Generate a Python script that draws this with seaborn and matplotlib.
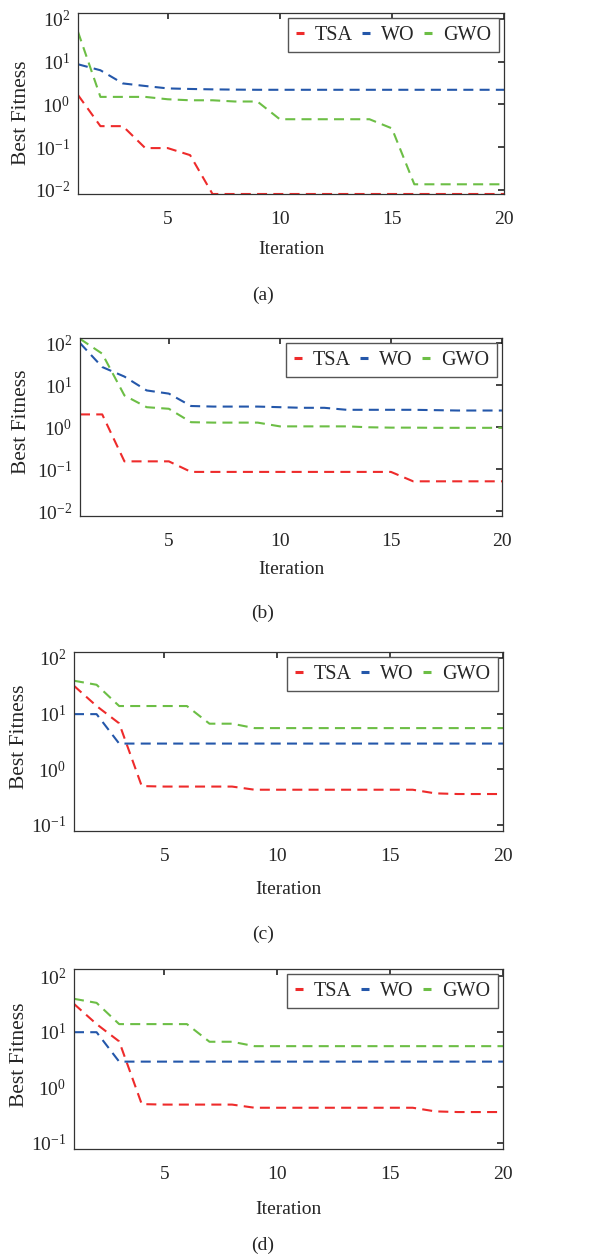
"""
Convergence curves of TSA, WO and GWO on four test cases (log scale)
"""

import numpy as np
import pandas as pd
import matplotlib
matplotlib.use("Agg")
import matplotlib.pyplot as plt
import seaborn as sns
from matplotlib.ticker import LogFormatterMathtext, FixedLocator

iterations = list(range(1, 21))
algorithms = ["TSA", "WO", "GWO"]
colors = ["#EE2B2B", "#2457AA", "#6CBE45"]

# panel (a)
tsa_a = [1.66, 0.31, 0.31, 0.095, 0.095, 0.065, 0.008, 0.008, 0.008, 0.008,
         0.008, 0.008, 0.008, 0.008, 0.008, 0.008, 0.008, 0.008, 0.008, 0.008]
wo_a = [8.7, 6.3, 3.1, 2.7, 2.37, 2.3, 2.25, 2.22, 2.2, 2.2,
        2.2, 2.2, 2.2, 2.2, 2.2, 2.2, 2.2, 2.2, 2.2, 2.2]
gwo_a = [50, 1.5, 1.5, 1.5, 1.32, 1.25, 1.25, 1.17, 1.17, 0.45,
         0.45, 0.45, 0.45, 0.45, 0.275, 0.0135, 0.0135, 0.0135, 0.0135, 0.0135]

# panel (b)
tsa_b = [2.02, 2.02, 0.155, 0.155, 0.155, 0.087, 0.087, 0.087, 0.087, 0.087,
         0.087, 0.087, 0.087, 0.087, 0.087, 0.052, 0.052, 0.052, 0.052, 0.052]
wo_b = [100, 27, 16, 7.5, 6.3, 3.2, 3.1, 3.1, 3.1, 3.0,
        2.9, 2.9, 2.6, 2.6, 2.6, 2.6, 2.55, 2.5, 2.5, 2.5]
gwo_b = [126, 56, 5.7, 3.0, 2.75, 1.32, 1.29, 1.29, 1.29, 1.05,
         1.05, 1.05, 1.05, 1.0, 0.98, 0.98, 0.97, 0.97, 0.97, 0.97]

# panel (c)
tsa_c = [31.6, 13.7, 6.7, 0.5, 0.49, 0.49, 0.49, 0.49, 0.43, 0.43,
         0.43, 0.43, 0.43, 0.43, 0.43, 0.43, 0.37, 0.36, 0.36, 0.36]
wo_c = [9.8, 9.8, 2.9, 2.9, 2.9, 2.9, 2.9, 2.9, 2.9, 2.9,
        2.9, 2.9, 2.9, 2.9, 2.9, 2.9, 2.9, 2.9, 2.9, 2.9]
gwo_c = [39, 33, 13.7, 13.7, 13.7, 13.7, 6.6, 6.6, 5.5, 5.5,
         5.5, 5.5, 5.5, 5.5, 5.5, 5.5, 5.5, 5.5, 5.5, 5.5]

# panel (d)
tsa_d = [31.6, 13.7, 6.7, 0.5, 0.49, 0.49, 0.49, 0.49, 0.43, 0.43,
         0.43, 0.43, 0.43, 0.43, 0.43, 0.43, 0.37, 0.36, 0.36, 0.36]
wo_d = [9.8, 9.8, 2.9, 2.9, 2.9, 2.9, 2.9, 2.9, 2.9, 2.9,
        2.9, 2.9, 2.9, 2.9, 2.9, 2.9, 2.9, 2.9, 2.9, 2.9]
gwo_d = [39, 33, 13.7, 13.7, 13.7, 13.7, 6.6, 6.6, 5.5, 5.5,
         5.5, 5.5, 5.5, 5.5, 5.5, 5.5, 5.5, 5.5, 5.5, 5.5]

captions = ["(a)", "(b)", "(c)", "(d)"]
y_limits = [(0.0080, 138), (0.0078, 132), (0.078, 128), (0.078, 134)]
y_ticks = [[1e-2, 1e-1, 1e0, 1e1, 1e2], [1e-2, 1e-1, 1e0, 1e1, 1e2],
           [1e-1, 1e0, 1e1, 1e2], [1e-1, 1e0, 1e1, 1e2]]
x_ticks = [5, 10, 15, 20]

panels = [(tsa_a, wo_a, gwo_a), (tsa_b, wo_b, gwo_b),
          (tsa_c, wo_c, gwo_c), (tsa_d, wo_d, gwo_d)]

# layout in pixels (from the top left corner of the 591x1258 figure)
W, H = 591, 1258
# left, top, right, bottom of each axes
boxes = [(78, 13, 504, 194), (80, 338, 502, 516),
         (74, 652, 503, 831), (74, 969, 503, 1149)]
xlabel_pos = [(291, 250), (291, 569), (288, 889), (288, 1210)]
ylabel_pos = [(22, 113), (22, 422), (20, 737), (20, 1055)]
caption_pos = [(263, 295), (263, 613), (263, 934), (263, 1245)]

sns.set_theme(style="white")
plt.rcParams["font.family"] = ["Liberation Serif", "DejaVu Serif"]
plt.rcParams["mathtext.fontset"] = "custom"
plt.rcParams["mathtext.rm"] = "Liberation Serif"
plt.rcParams["mathtext.it"] = "Liberation Serif:italic"
plt.rcParams["font.size"] = 14.5

fig = plt.figure(figsize=(W / 100, H / 100), dpi=100)
fig.patch.set_facecolor("white")


def px(x, y):
    return x / W, 1 - y / H


for i, (tsa, wo, gwo) in enumerate(panels):
    l, t, r, b = boxes[i]
    ax = fig.add_axes([l / W, 1 - b / H, (r - l) / W, (b - t) / H])

    df = pd.DataFrame({
        "Iteration": iterations * 3,
        "Best Fitness": tsa + wo + gwo,
        "Algorithm": ["TSA"] * 20 + ["WO"] * 20 + ["GWO"] * 20,
    })
    sns.lineplot(data=df, x="Iteration", y="Best Fitness", hue="Algorithm",
                 style="Algorithm", hue_order=algorithms, style_order=algorithms,
                 palette=dict(zip(algorithms, colors)),
                 dashes={a: (4.8, 3) for a in algorithms},
                 linewidth=1.5, legend=False, ax=ax)

    ax.set_yscale("log")
    ax.set_xlim(1, 20)
    ax.set_ylim(*y_limits[i])
    ax.xaxis.set_major_locator(FixedLocator(x_ticks))
    ax.yaxis.set_major_locator(FixedLocator(y_ticks[i]))
    ax.yaxis.set_major_formatter(LogFormatterMathtext())
    ax.yaxis.set_minor_locator(FixedLocator([]))
    ax.tick_params(axis="both", which="major", direction="in", length=4,
                   width=1.1, color="#111111", top=True, right=True,
                   labelsize=14, pad=5.5)
    ax.tick_params(axis="x", pad=12)
    for s in ax.spines.values():
        s.set_color("#333333")
        s.set_linewidth(0.9)

    ax.set_xlabel("Iteration", fontsize=14)
    ax.set_ylabel("Best Fitness", fontsize=15.5)
    ax.xaxis.set_label_coords(*px(*xlabel_pos[i]), transform=fig.transFigure)
    ax.yaxis.set_label_coords(*px(*ylabel_pos[i]), transform=fig.transFigure)
    ax.xaxis.label.set_va("center")
    ax.yaxis.label.set_va("center")

    leg = ax.legend(ax.lines[:3], algorithms, ncol=3, loc="upper right",
                    handlelength=0.4, handletextpad=0.55, columnspacing=0.45,
                    borderpad=0.38, borderaxespad=0.25, fancybox=False,
                    framealpha=1, edgecolor="#555555", fontsize=14.5)
    leg.get_frame().set_linewidth(1.0)
    for h in leg.get_lines():
        h.set_linestyle("-")
        h.set_linewidth(2.2)
        h.set_solid_capstyle("butt")

    fig.text(*px(*caption_pos[i]), captions[i], ha="center", va="center",
             fontsize=14)

fig.savefig("out.png", dpi=100)
